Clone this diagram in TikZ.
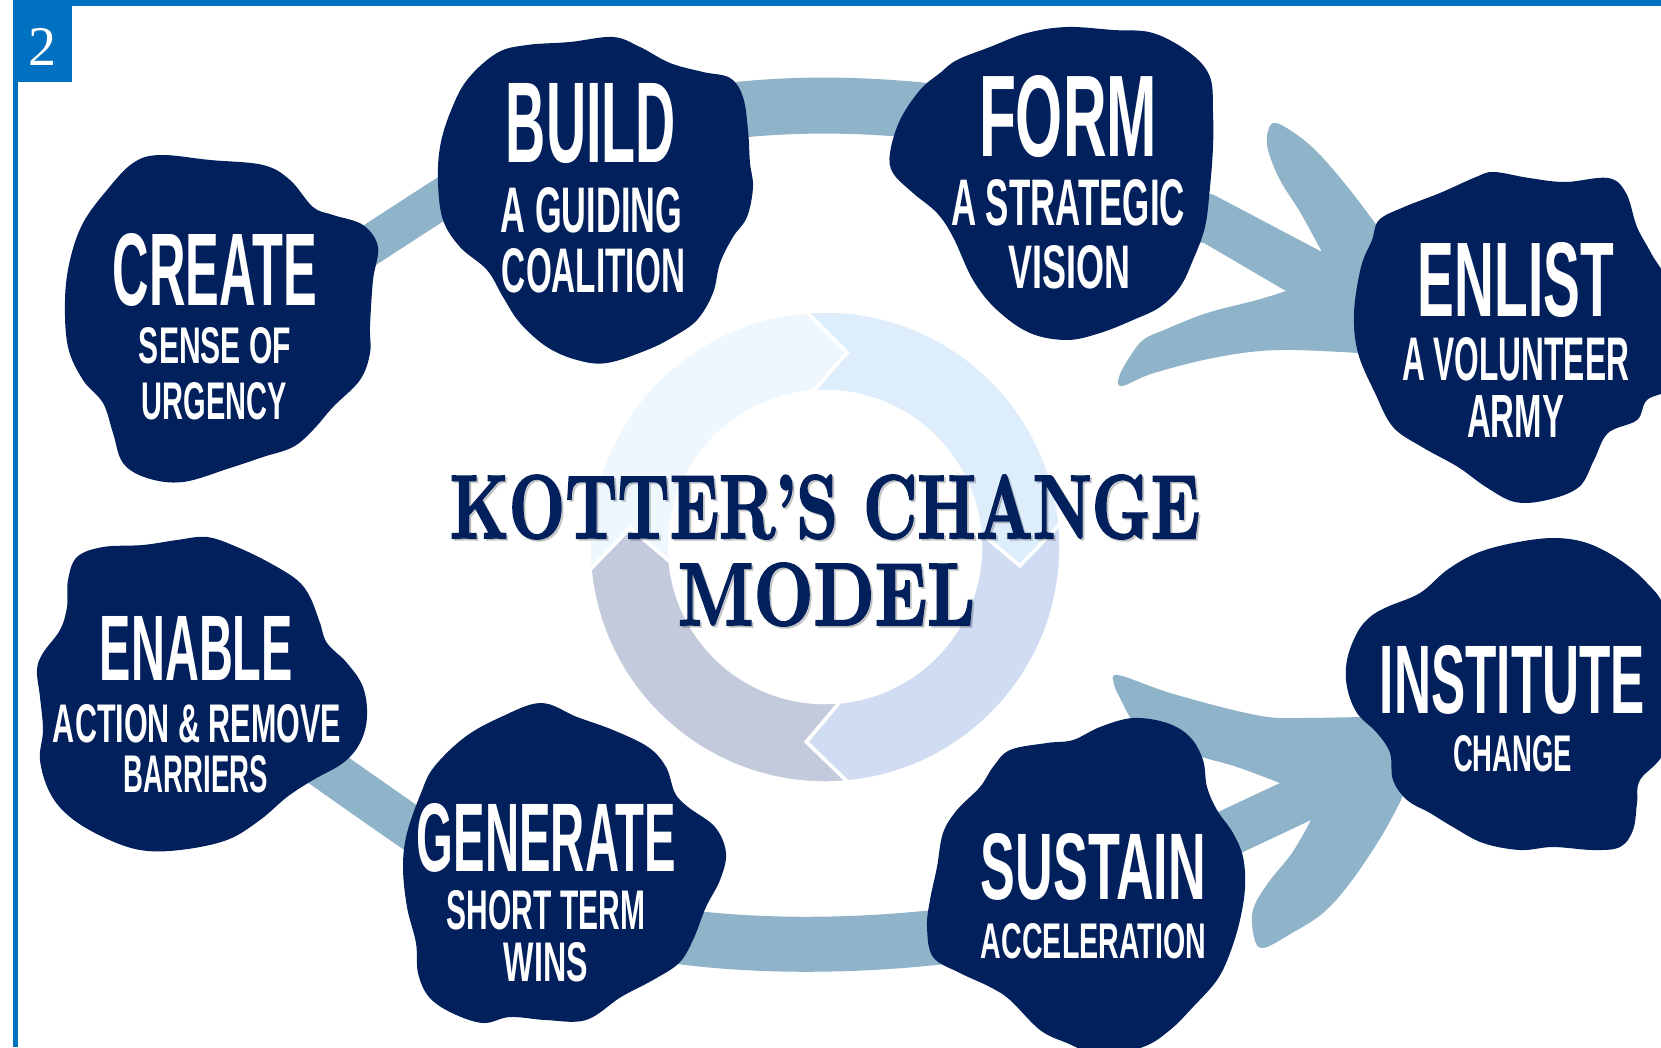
\documentclass[tikz,border=0pt]{standalone}
\usepackage{fontspec}
\usepackage{graphicx}
\setmainfont{Latin Modern Roman}
\newfontfamily\blobfont{Liberation Sans}
\newfontfamily\numfont{Liberation Serif}
\newfontfamily\titlefont{Latin Modern Roman}[BoldFeatures={FakeBold=2.2}]
\definecolor{navy}{HTML}{02205C}
\definecolor{bandblue}{HTML}{8FB4CA}
\definecolor{frameblue}{HTML}{0070C0}
\definecolor{ringA}{HTML}{EEF6FE}
\definecolor{ringB}{HTML}{DDEDFC}
\definecolor{ringC}{HTML}{D0DCF2}
\definecolor{ringD}{HTML}{C2CADB}
% a line of white blob text stretched to a given width and cap height
\newcommand{\fitline}[3]{\resizebox{#1pt}{#2pt}{\blobfont\bfseries #3}}
% a line of the title stretched to a given width and cap height
\newcommand{\fittitle}[3]{\resizebox{#1pt}{#2pt}{\titlefont\bfseries #3}}
% one quarter of the central cycle ring: colour, start angle, end angle
\newcommand{\ringpart}[3]{%
  \fill[#1, draw=white, line width=3.5] (#2:236) arc[start angle=#2, end angle=#3, radius=236]
    -- ({#3-11}:195.75) -- (#3:155.5) arc[start angle=#3, end angle=#2, radius=155.5]
    -- ({#2-11}:195.75) -- cycle;}
\tikzset{
  blob/.style={fill=navy},
  band/.style={draw=bandblue, line cap=butt},
  bigarrow/.style={fill=bandblue},
  txt/.style={anchor=base, inner sep=0pt, text=white},
  ttl/.style={anchor=base, inner sep=0pt, text=navy},
}
\begin{document}
\begin{tikzpicture}[x=1pt, y=-1pt]
\useasboundingbox (0,0) rectangle (1661,1047);
\clip (0,0) rectangle (1661,1047);
\fill[white] (0,0) rectangle (1661,1047);

% frame and step number
\fill[frameblue] (13,0) rectangle (1661,6);
\fill[frameblue] (13,0) rectangle (18,1047);
\fill[frameblue] (13,0) rectangle (72,82);
\node[anchor=base, inner sep=0pt, text=white, font=\numfont\fontsize{56}{56}\selectfont] (stepnum) at (42.5,65) {2};

% central cycle ring
\begin{scope}[shift={(825,547)}, yscale=-1]
  \ringpart{ringA}{185.5}{94.5}
  \ringpart{ringB}{94.5}{5.5}
  \ringpart{ringC}{5.5}{-84.5}
  \ringpart{ringD}{-84.5}{-174.5}
\end{scope}

% blob centres and band end points
\coordinate (create) at (220,318);
\coordinate (build) at (592,200);
\coordinate (form) at (1068,190);
\coordinate (enlist) at (1510,340);
\coordinate (enable) at (200,700);
\coordinate (generate) at (560,870);
\coordinate (sustain) at (1090,890);
\coordinate (institute) at (1510,700);

\coordinate (cb-s) at (290,297);  \coordinate (cb-e) at (500,162);
\coordinate (bf-s) at (720,112);  \coordinate (bf-e) at (960,115);
\coordinate (eg-s) at (300,750);  \coordinate (eg-e) at (440,848);
\coordinate (gs-s) at (640,930);  \coordinate (gs-e) at (990,930);

% connecting bands
\draw[band, line width=40] (cb-s) .. controls (360,252) and (430,205) .. (cb-e);
\draw[band, line width=56] (bf-s) .. controls (790,103) and (870,103) .. (bf-e);
\draw[band, line width=44] (eg-s) .. controls (345,782) and (395,817) .. (eg-e);
\draw[band, line width=55] (gs-s) .. controls (740,950) and (880,948) .. (gs-e);

% brush arrow: form -> enlist
\fill[bigarrow] (1140,175) -- (1214,195) -- (1322,252)
  -- plot[smooth, tension=0.6] coordinates {(1322,252) (1300,212) (1280,180) (1268,150) (1268,131) (1276,123) (1300,137) (1322,157) (1350,190) (1375,223) (1395,250)}
  -- (1430,300) -- (1358,353)
  -- plot[smooth, tension=0.6] coordinates {(1358,353) (1279,350) (1218,357) (1154,373) (1122,386) (1119,377) (1129,358) (1143,340) (1164,330) (1207,313) (1257,300) (1286,291)}
  -- (1204,243) -- (1140,235) -- cycle;

% brush arrow: sustain -> institute
\fill[bigarrow] (1180,840) -- (1218,812) -- (1280,783)
  -- plot[smooth, tension=0.6] coordinates {(1280,783) (1237,767) (1202,757) (1151,740) (1132,720) (1120,698) (1114,684) (1118,675) (1167,692) (1225,708) (1268,717) (1300,718) (1362,717)}
  -- (1420,750) -- (1401,800)
  -- plot[smooth, tension=0.6] coordinates {(1401,800) (1381,837) (1350,883) (1323,913) (1292,933) (1263,948) (1254,937) (1253,910) (1268,883) (1292,853) (1311,820)}
  -- (1241,853) -- (1200,870) -- cycle;

% blobs
\fill[blob] plot[smooth cycle, tension=0.6] coordinates {(133,163) (160,155) (210,160) (263,165) (290,180) (313,207) (333,215) (363,225) (378,247) (373,280) (370,327) (370,353) (360,380) (333,407) (313,430) (293,447) (263,457) (230,468) (183,482) (147,478) (123,463) (113,433) (103,403) (83,380) (68,347) (65,300) (70,260) (83,223) (107,190)};
\fill[blob] plot[smooth cycle, tension=0.6] coordinates {(497,53) (527,45) (570,42) (613,37) (640,47) (670,63) (703,72) (730,78) (743,97) (748,130) (750,163) (753,187) (747,217) (733,237) (720,263) (713,293) (697,320) (673,337) (647,350) (607,363) (577,360) (547,347) (520,323) (503,297) (487,270) (460,247) (443,220) (438,183) (440,147) (450,113) (467,80)};
\fill[blob] plot[smooth cycle, tension=0.6] coordinates {(957,60) (990,47) (1027,33) (1067,27) (1113,30) (1153,33) (1190,53) (1210,77) (1213,113) (1213,147) (1210,187) (1205,227) (1193,260) (1180,287) (1160,307) (1133,320) (1100,333) (1067,340) (1030,333) (997,310) (973,280) (953,237) (937,213) (913,193) (893,173) (890,153) (900,120) (920,90) (940,73)};
\fill[blob] plot[smooth cycle, tension=0.6] coordinates {(1379,220) (1404,207) (1440,193) (1476,177) (1494,172) (1529,178) (1565,182) (1608,178) (1626,193) (1637,227) (1651,253) (1675,300) (1675,380) (1647,400) (1637,420) (1608,433) (1594,460) (1579,487) (1547,500) (1515,502) (1486,487) (1458,467) (1422,447) (1393,427) (1375,393) (1358,353) (1354,313) (1361,267) (1372,240)};
\fill[blob] plot[smooth cycle, tension=0.6] coordinates {(77,557) (103,547) (143,545) (177,540) (207,537) (237,547) (270,563) (297,580) (310,597) (320,623) (327,643) (347,663) (363,687) (367,717) (360,743) (343,763) (313,780) (287,797) (260,820) (227,840) (180,850) (140,850) (103,837) (70,817) (50,793) (40,760) (43,730) (40,697) (37,670) (43,653) (60,630) (67,607) (68,580)};
\fill[blob] plot[smooth cycle, tension=0.6] coordinates {(541,703) (577,717) (613,730) (648,747) (666,767) (675,793) (688,807) (715,827) (726,853) (720,880) (706,907) (693,940) (679,963) (653,980) (621,997) (586,1020) (546,1020) (510,1017) (483,1023) (452,1013) (429,997) (418,973) (416,943) (407,907) (403,867) (407,833) (421,793) (434,767) (465,737) (501,717)};
\fill[blob] plot[smooth cycle, tension=0.6] coordinates {(1010,750) (1047,743) (1073,740) (1100,727) (1133,718) (1167,723) (1190,737) (1203,760) (1207,787) (1217,810) (1233,833) (1243,857) (1245,887) (1240,920) (1230,953) (1217,980) (1193,1007) (1170,1030) (1143,1047) (1100,1055) (1067,1043) (1040,1030) (1010,1000) (990,987) (960,973) (933,957) (927,927) (930,900) (937,867) (943,833) (957,810) (980,787) (993,767)};
\fill[blob] plot[smooth cycle, tension=0.6] coordinates {(1387,607) (1420,593) (1447,570) (1477,553) (1513,543) (1553,538) (1587,543) (1620,560) (1647,583) (1665,610) (1680,680) (1665,750) (1640,780) (1637,803) (1633,830) (1620,847) (1593,850) (1553,847) (1520,850) (1483,843) (1453,827) (1430,813) (1407,800) (1393,780) (1390,753) (1377,733) (1357,713) (1347,687) (1347,660) (1357,633) (1370,617)};

% blob texts
\node[txt] (create-1) at (215,305) {\fitline{204}{72}{CREATE}};
\node[txt] (create-2) at (215,363) {\fitline{152}{36}{SENSE OF}};
\node[txt] (create-3) at (214.5,419) {\fitline{145}{37}{URGENCY}};

\node[txt] (build-1) at (591,162) {\fitline{170}{79}{BUILD}};
\node[txt] (build-2) at (591.5,232) {\fitline{181}{45}{A GUIDING}};
\node[txt] (build-3) at (593.5,292) {\fitline{183}{44}{COALITION}};

\node[txt] (form-1) at (1068,156) {\fitline{178}{81}{FORM}};
\node[txt] (form-2) at (1068,225) {\fitline{234}{46}{A STRATEGIC}};
\node[txt] (form-3) at (1069,288) {\fitline{122}{43}{VISION}};

\node[txt] (enlist-1) at (1516,316) {\fitline{196}{74}{ENLIST}};
\node[txt] (enlist-2) at (1515.5,380) {\fitline{227}{43}{A VOLUNTEER}};
\node[txt] (enlist-3) at (1515.5,437) {\fitline{97}{42}{ARMY}};

\node[txt] (enable-1) at (196.5,680) {\fitline{193}{64}{ENABLE}};
\node[txt] (enable-2) at (197,742) {\fitline{288}{38}{ACTION \& REMOVE}};
\node[txt] (enable-3) at (196,792) {\fitline{144}{37}{BARRIERS}};

\node[txt] (generate-1) at (546.5,871) {\fitline{259}{68}{GENERATE}};
\node[txt] (generate-2) at (546,929) {\fitline{198}{39}{SHORT TERM}};
\node[txt] (generate-3) at (546,981) {\fitline{84}{39}{WINS}};

\node[txt] (sustain-1) at (1093.5,899) {\fitline{225}{66}{SUSTAIN}};
\node[txt] (sustain-2) at (1093.5,958) {\fitline{225}{35}{ACCELERATION}};

\node[txt] (institute-1) at (1512.5,713) {\fitline{265}{68}{INSTITUTE}};
\node[txt] (institute-2) at (1512.5,771) {\fitline{119}{36}{CHANGE}};

% title with a faint shadow
\node[ttl, text=black, opacity=0.15] at (827,540) {\fittitle{750}{63}{KOTTER’S CHANGE}};
\node[ttl, text=black, opacity=0.15] at (828.5,627) {\fittitle{297}{62}{MODEL}};
\node[ttl] (title-1) at (825,538) {\fittitle{750}{63}{KOTTER’S CHANGE}};
\node[ttl] (title-2) at (826.5,625) {\fittitle{297}{62}{MODEL}};
\end{tikzpicture}
\end{document}
